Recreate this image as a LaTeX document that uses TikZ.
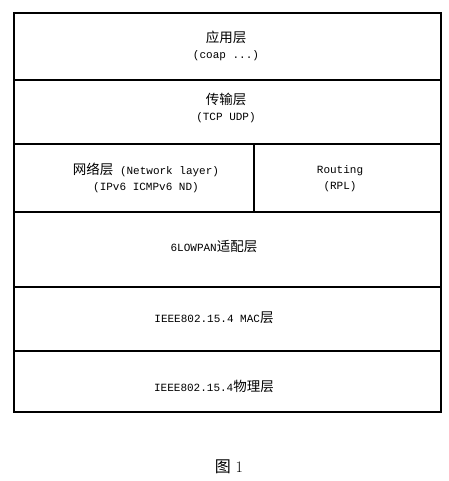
\documentclass[tikz,border=0pt]{standalone}
\usepackage{fontspec}
\setmonofont{Liberation Mono}
\newfontfamily\cjk{Noto Sans CJK SC}

\begin{document}
\begin{tikzpicture}[line cap=rect,line join=miter,x=1pt,y=-1pt]
\tikzset{layerbox/.style={draw, line width=1.5pt, rectangle, inner sep=0pt, minimum width=427pt},
  layertext/.style={font=\ttfamily\fontsize{11}{16}\selectfont, align=center, inner sep=0pt}}
\newcommand{\hanzi}[1]{{\cjk\fontsize{13.5}{16}\selectfont #1}}
\useasboundingbox (0,0) rectangle (448,481);
% the layers
\node[layerbox, minimum height=67pt] (app) at (227.5,46.5) {};
\node[layerbox, minimum height=64pt] (trans) at (227.5,112) {};
\node[layerbox, minimum width=240pt, minimum height=68pt] (net) at (134,178) {};
\node[layerbox, minimum width=187pt, minimum height=68pt] (route) at (347.5,178) {};
\node[layerbox, minimum height=75pt] (lowpan) at (227.5,249.5) {};
\node[layerbox, minimum height=64pt] (mac) at (227.5,319) {};
\node[layerbox, minimum height=61pt] (phy) at (227.5,381.5) {};
% the texts
\node[layertext] (appT) at (226,46) {\hanzi{应用层}\\(coap ...)};
\node[layertext] (transT) at (226,107.5) {\hanzi{传输层}\\(TCP UDP)};
\node[layertext] (netT) at (146,177.5) {\hanzi{网络层} (Network layer)\\(IPv6 ICMPv6 ND)};
\node[layertext] (routeT) at (340,178.5) {Routing\\(RPL)};
\node[layertext] (lowpanT) at (214,246) {6LOWPAN\hanzi{适配层}};
\node[layertext] (macT) at (214,318) {IEEE802.15.4 MAC\hanzi{层}};
\node[layertext] (phyT) at (214,386) {IEEE802.15.4\hanzi{物理层}};
\node[font=\fontsize{16}{18}\selectfont, inner sep=0pt] (caption) at (229,467) {{\cjk 图} 1};
\end{tikzpicture}
\end{document}
